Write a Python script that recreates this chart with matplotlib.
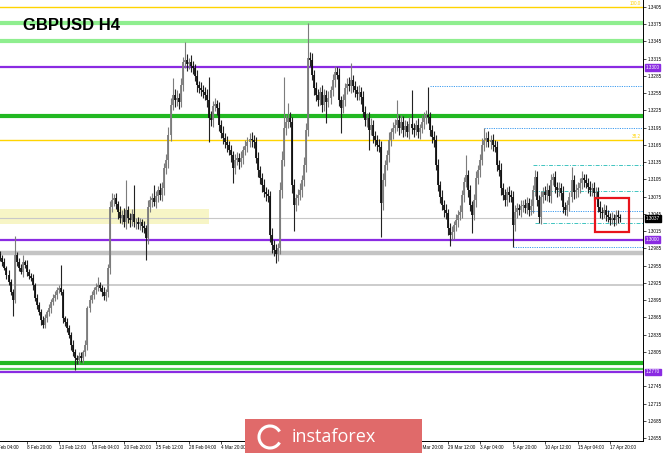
import matplotlib
matplotlib.use("Agg")
import matplotlib.pyplot as plt
from matplotlib.patches import Rectangle, Arc
import numpy as np

W, H, DPI = 665, 453, 100

# ---------------- data (prices in pips, 1e-4) ----------------
first_open = 12975
close_pips = [
    12968, 12961, 12951, 12939, 12926, 12909, 12895, 12973, 12961, 12951,
    12944, 12961, 12956, 12944, 12937, 12933, 12921, 12899, 12886, 12874,
    12860, 12852, 12864, 12874, 12881, 12892, 12899, 12904, 12912, 12916,
    12909, 12864, 12857, 12846, 12834, 12817, 12804, 12794, 12791, 12798,
    12794, 12804, 12817, 12881, 12895, 12904, 12912, 12918, 12921, 12916,
    12909, 12902, 12909, 12951, 13057, 13069, 13072, 13062, 13048, 13038,
    13043, 13031, 13052, 13038, 13034, 13045, 13031, 13031, 13027, 13031,
    13024, 13020, 13003, 13057, 13069, 13072, 13066, 13076, 13086, 13078,
    13090, 13125, 13139, 13182, 13234, 13252, 13243, 13247, 13240, 13269,
    13309, 13313, 13306, 13309, 13302, 13299, 13285, 13269, 13264, 13260,
    13257, 13252, 13243, 13212, 13208, 13233, 13236, 13229, 13200, 13186,
    13177, 13170, 13165, 13156, 13147, 13125, 13139, 13142, 13135, 13142,
    13156, 13163, 13170, 13175, 13173, 13170, 13142, 13121, 13107, 13095,
    13083, 13079, 13076, 13008, 12991, 12982, 12975, 12986, 13086, 13139,
    13194, 13205, 13212, 13205, 13095, 13060, 13072, 13078, 13086, 13104,
    13130, 13191, 13316, 13313, 13287, 13264,
    13252, 13243, 13257, 13234, 13252, 13240, 13247, 13260, 13278, 13292,
    13287, 13243, 13229, 13243, 13264, 13271, 13267, 13278, 13267, 13260,
    13253, 13257, 13248, 13222, 13208, 13212, 13191, 13200, 13180, 13173,
    13165, 13161, 13064, 13104, 13130, 13147, 13173, 13187, 13194, 13200,
    13208, 13194, 13205, 13191, 13198, 13187, 13201, 13194, 13191, 13200,
    13187, 13194, 13205, 13212, 13217, 13213, 13191, 13179, 13173, 13130,
    13095, 13074, 13060, 13052, 13046, 13020, 13008, 13013, 13025, 13034,
    13043, 13048, 13078, 13100, 13112,
    13086, 13060, 13043, 13069, 13107, 13121, 13139, 13165, 13173,
    13177, 13170, 13173, 13165, 13161, 13130, 13121, 13090, 13078, 13069,
    13083, 13078, 13074, 13025, 13048, 13055, 13052, 13059, 13060, 13055,
    13064, 13052, 13059, 13086, 13109, 13069, 13039, 13074, 13083, 13078,
    13086, 13076, 13104, 13109, 13092, 13086, 13090, 13081, 13057, 13052,
    13060, 13074, 13104, 13083, 13086, 13090, 13099, 13107, 13104, 13099,
    13092, 13086, 13090, 13081, 13083, 13057, 13048, 13046, 13052, 13043,
    13039, 13034, 13038, 13034, 13043, 13039, 13037,
]
upper_wick_pips = [
    6, 5, 7, 4, 8, 5, 6, 33, 5, 7, 6, 12, 4, 8, 5, 6, 7, 4, 6, 5,
    5, 7, 6, 4, 8, 5, 6, 7, 5, 6, 40, 5, 4, 7, 6, 5, 8, 6, 5, 7,
    6, 5, 8, 4, 9, 6, 5, 7, 14, 6, 5, 8, 6, 7, 10, 12, 8, 9, 6, 10,
    8, 12, 52, 7, 9, 8, 50, 6, 8, 7, 5, 9, 6, 12, 8, 10, 23, 9, 8, 12,
    10, 9, 11, 14, 12, 29, 10, 13, 8, 12, 9, 31, 10, 8, 12, 9, 7, 10, 8, 11,
    9, 8, 10, 40, 12, 9, 11, 8, 10, 9, 12, 8, 10, 7, 9, 8, 11, 10, 9, 12,
    8, 10, 9, 11, 12, 9, 8, 10, 7, 9, 11, 8, 10, 9, 12, 8, 10, 9, 14, 16,
    89, 12, 26, 10, 9, 11, 8, 10, 12, 9, 14, 12, 61, 10, 12, 9, 11, 10, 8, 12,
    10, 9, 12, 8, 11, 10, 9, 12, 8, 10, 9, 11, 12, 29, 9, 10, 8, 12, 9, 10,
    11, 9, 10, 12, 8, 10, 9, 11, 10, 12, 9, 10, 14, 8, 11, 10, 35, 9, 12, 10,
    11, 9, 12, 60, 10, 9, 11, 8, 12, 10, 9, 49, 10, 8, 11, 9, 10, 8, 12, 9,
    10, 8, 9, 11, 7, 10, 9, 12, 8, 10, 35, 9, 10, 8, 11, 12, 9, 10, 12, 21,
    10, 12, 9, 11, 8, 10, 9, 12, 8, 10, 9, 11, 8, 10, 12, 9, 8, 10, 9, 11,
    10, 8, 12, 9, 12, 10, 9, 11, 8, 10, 12, 9, 10, 8, 11, 9, 10, 8, 12, 9,
    10, 9, 23, 8, 11, 10, 9, 12, 8, 10, 9, 11, 8, 10, 9, 8, 10, 9, 11, 8,
    9, 8, 10, 7, 9, 8, 6,
]
lower_wick_pips = [
    5, 6, 4, 7, 5, 6, 28, 5, 7, 6, 4, 8, 5, 7, 6, 5, 8, 6, 7, 5,
    8, 6, 5, 7, 6, 8, 5, 6, 7, 5, 6, 8, 7, 6, 5, 9, 6, 21, 8, 7,
    6, 9, 7, 8, 6, 5, 7, 6, 8, 5, 7, 6, 9, 8, 10, 9, 11, 8, 12, 9,
    10, 8, 12, 9, 11, 10, 8, 12, 9, 10, 11, 8, 38, 10, 9, 12, 8, 10, 11, 9,
    11, 12, 10, 14, 11, 9, 12, 10, 13, 9, 11, 10, 12, 9, 10, 11, 8, 12, 9, 10,
    11, 9, 12, 42, 10, 11, 9, 12, 10, 9, 11, 10, 12, 9, 11, 26, 10, 9, 12, 8,
    10, 9, 11, 8, 12, 10, 9, 11, 10, 12, 9, 11, 10, 12, 14, 11, 15, 12, 10, 13,
    11, 12, 10, 9, 14, 45, 10, 12, 9, 11, 10, 12, 10, 11, 9, 12, 10, 11, 9, 12,
    10, 37, 9, 11, 10, 12, 8, 10, 43, 9, 11, 10, 9, 12, 10, 11, 9, 10, 12, 9,
    10, 11, 35, 9, 12, 10, 11, 9, 59, 12, 10, 9, 11, 10, 12, 9, 10, 11, 9, 12,
    10, 9, 11, 10, 12, 9, 10, 11, 9, 12, 10, 9, 11, 10, 12, 9, 11, 10, 9, 12,
    10, 11, 19, 9, 12, 10, 11, 9, 10, 12, 9, 11, 10, 31, 9, 12, 10, 11, 9, 10,
    11, 9, 12, 10, 9, 11, 10, 12, 9, 11, 10, 12, 9, 38, 10, 11, 9, 12, 10, 9,
    11, 10, 9, 12, 10, 11, 9, 12, 10, 9, 11, 10, 12, 9, 10, 11, 9, 12, 10, 9,
    11, 10, 9, 12, 10, 11, 9, 10, 12, 9, 11, 10, 9, 12, 10, 9, 11, 10, 9, 10,
    8, 9, 7, 10, 8, 9, 6,
]

# horizontal levels
yellow_levels = [1.3405, 1.3174]
fib_labels = ["100.0", "38.2"]
lightgreen_levels = [1.3377, 1.3346]
purple_levels = [1.3300, 1.3000, 1.2770]
darkgreen_levels = [1.3215, 1.2785]
midgreen_levels = [1.2775]
gray_thick_levels = [1.2977]
gray_thin_levels = [1.2921]
current_price = 1.3037
zone_top, zone_bottom, zone_end_bar = 1.3053, 1.3027, 103
dotted_levels = [1.3268, 1.3194, 1.3050, 1.2987]
dotted_start = [212, 239, 261, 253]
dashdot_levels = [1.3130, 1.3085, 1.3029]
dashdot_start = [263, 263, 264]
box_bars = (293.6, 310.4)
box_prices = (1.3013, 1.30725)

ytick_values = [1.3405, 1.3375, 1.3345, 1.3315, 1.3285, 1.3255, 1.3225, 1.3195,
                1.3165, 1.3135, 1.3105, 1.3075, 1.3045, 1.3015, 1.2985, 1.2955,
                1.2925, 1.2895, 1.2865, 1.2835, 1.2805, 1.2745, 1.2715, 1.2685,
                1.2655]
xtick_bars = [13, 29, 45, 61, 77, 93, 109, 125, 141, 157, 173, 189, 205, 221,
              237, 253, 269, 285, 301]
xtick_labels = ["8 Feb 20:00", "13 Feb 12:00", "18 Feb 04:00", "20 Feb 20:00",
                "25 Feb 12:00", "28 Feb 04:00", "4 Mar 20:00", "7 Mar 12:00",
                "12 Mar 04:00", "14 Mar 20:00", "19 Mar 12:00", "22 Mar 04:00",
                "26 Mar 20:00", "29 Mar 12:00", "3 Apr 04:00", "5 Apr 20:00",
                "10 Apr 12:00", "15 Apr 04:00", "17 Apr 20:00"]
first_label_bar, first_label = -3, "6 Feb 04:00"

# ---------------- build OHLC ----------------
closes = np.array(close_pips) / 1e4
opens = np.concatenate([[first_open / 1e4], closes[:-1]])
highs = np.maximum(opens, closes) + np.array(upper_wick_pips) / 1e4
lows = np.minimum(opens, closes) - np.array(lower_wick_pips) / 1e4
xs = np.arange(len(closes))

FONT = "Liberation Sans"
plt.rcParams["font.family"] = [FONT, "DejaVu Sans"]

fig = plt.figure(figsize=(W / DPI, H / DPI), dpi=DPI)
fig.patch.set_facecolor("white")
ax = fig.add_axes([0, 12 / H, 643 / W, 441 / H])
ax.set_xlim(-0.2, 317.3)
ax.set_ylim(1.26498, 1.34172)

# zones / levels
ax.add_patch(Rectangle((-0.2, zone_bottom), zone_end_bar + 0.2, zone_top - zone_bottom,
                       facecolor="#f7f5c6", edgecolor="none", zorder=1))
ax.axhline(current_price, color="#c8c8c8", lw=0.8, zorder=1.5)
for v in gray_thick_levels:
    ax.axhline(v, color="#c4c4c4", lw=3.2, zorder=1.5)
for v in gray_thin_levels:
    ax.axhline(v, color="#c8c8c8", lw=1.3, zorder=1.5)
for v in lightgreen_levels:
    ax.axhline(v, color="#8fee8f", lw=3.0, zorder=1.5)
for v in darkgreen_levels:
    ax.axhline(v, color="#22b822", lw=3.0, zorder=1.5)
for v in midgreen_levels:
    ax.axhline(v, color="#4fd04f", lw=1.6, zorder=1.5)
for v in yellow_levels:
    ax.axhline(v, color="#ffd400", lw=1.0, zorder=1.5)
for v in purple_levels:
    ax.axhline(v, color="#8a2be2", lw=1.6, zorder=1.6)
for v, s in zip(dotted_levels, dotted_start):
    ax.hlines(v, s, 317.3, color="#3c9cf0", lw=0.7, linestyles=(0, (1.2, 1.2)), zorder=1.6)
for v, s in zip(dashdot_levels, dashdot_start):
    ax.hlines(v, s, 317.3, color="#40c4c0", lw=0.7, linestyles=(0, (4, 1.5, 1, 1.5)), zorder=1.6)
for v, t in zip(yellow_levels, fib_labels):
    ax.text(316.5, v + 0.00012, t, color="#ffd400", fontsize=3.3, ha="right", va="bottom", zorder=3)

# candles
bull = closes >= opens
bear = ~bull
ax.vlines(xs[bull], lows[bull], highs[bull], color="#7c7c7c", lw=0.8, zorder=2)
ax.vlines(xs[bull], opens[bull], closes[bull], color="#7c7c7c", lw=1.3, zorder=2.1)
ax.vlines(xs[bear], lows[bear], highs[bear], color="#222222", lw=0.8, zorder=2)
ax.vlines(xs[bear], opens[bear], closes[bear], color="#111111", lw=1.3, zorder=2.1)

# red highlight box
ax.add_patch(Rectangle((box_bars[0], box_prices[0]), box_bars[1] - box_bars[0],
                       box_prices[1] - box_prices[0], facecolor="none",
                       edgecolor="#e8141c", lw=1.6, zorder=4))

# title
fig.text(23 / W, 1 - 30 / H, "GBPUSD H4", fontsize=12, fontweight="bold",
         color="black", ha="left", va="baseline", family=FONT)

# axes styling
for s in ["left", "top"]:
    ax.spines[s].set_visible(False)
ax.spines["right"].set_linewidth(0.7)
ax.spines["bottom"].set_linewidth(0.7)
ax.yaxis.tick_right()
ax.set_yticks(ytick_values)
ax.set_yticklabels([f"{v:.4f}" for v in ytick_values])
ax.tick_params(axis="y", direction="out", length=2, width=0.5, pad=1.5,
               labelsize=3.3, colors="black")
ax.set_xticks(xtick_bars)
ax.set_xticklabels(xtick_labels)
ax.tick_params(axis="x", direction="out", length=2, width=0.5, pad=1.0,
               labelsize=3.3, colors="black")
for lbl in ax.get_xticklabels():
    lbl.set_ha("left")
ax.text(first_label_bar, -0.009, first_label, transform=ax.get_xaxis_transform(),
        fontsize=3.3, ha="left", va="top", clip_on=False)

# price boxes on the right axis
def price_box(v, fc):
    ax.annotate(f"{v:.4f}", xy=(1.0, v), xycoords=("axes fraction", "data"),
                xytext=(1.8, 0), textcoords="offset points", va="center",
                ha="left", fontsize=3.3, color="white", zorder=6,
                bbox=dict(boxstyle="square,pad=0.2", fc=fc, ec=fc))

for v in purple_levels:
    price_box(v, "#8a2be2")
price_box(current_price, "#000000")

# watermark
fig.add_artist(Rectangle((245 / W, 0), (422 - 245) / W, 34 / H, transform=fig.transFigure,
                         facecolor="#e06a6a", edgecolor="none", zorder=10))
fig.add_artist(Arc((270 / W, 1 - 437 / H), 22 / W, 22 / H, theta1=40, theta2=320,
                   transform=fig.transFigure, color="white", lw=2.2, zorder=11))
fig.text(292 / W, 1 - 437 / H, "instaforex", fontsize=13, color="white",
         ha="left", va="center", family=["Open Sans", "DejaVu Sans"], zorder=12)

fig.savefig("out.png", dpi=DPI, facecolor="white")
